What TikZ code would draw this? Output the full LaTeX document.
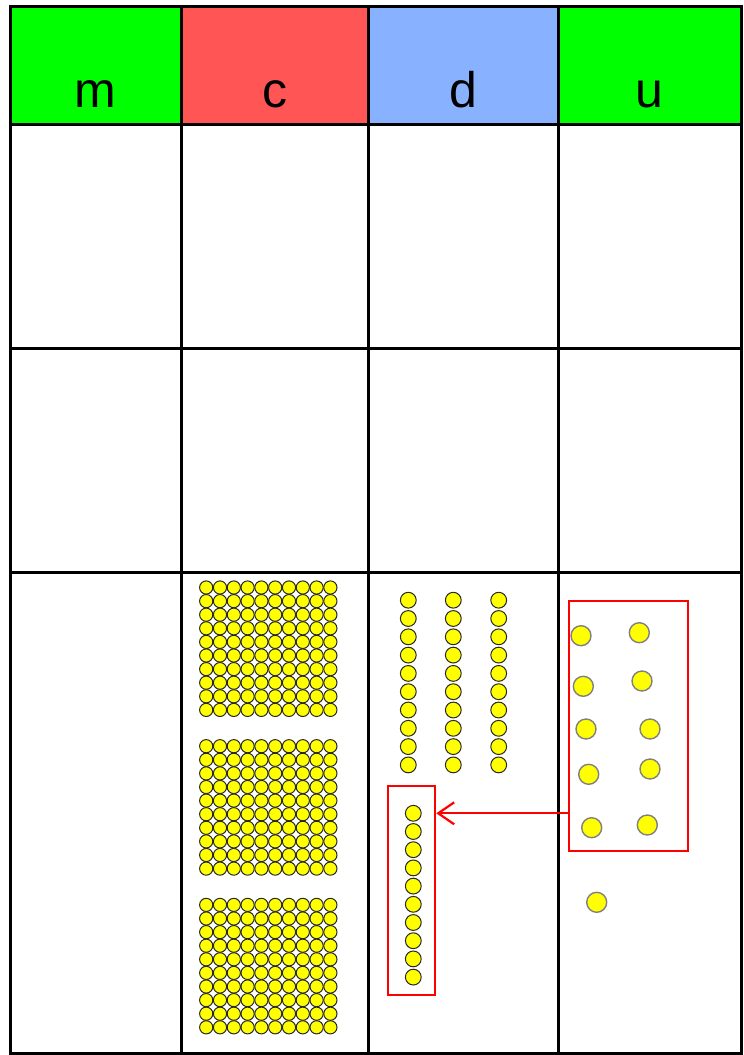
\documentclass[tikz,border=0pt]{standalone}
\usepackage{fontspec}
\setmainfont{Liberation Sans}
\usetikzlibrary{arrows.meta}
\definecolor{hgreen}{RGB}{0,255,0}
\definecolor{hred}{RGB}{255,85,85}
\definecolor{hblue}{RGB}{136,178,255}
\definecolor{bead}{RGB}{255,255,0}
\definecolor{ugray}{RGB}{128,128,128}
\begin{document}
\begin{tikzpicture}[x=1pt,y=-1pt,
  gridline/.style={line width=3pt},
  headtext/.style={font=\fontsize{50}{60}\selectfont, anchor=base, inner sep=0pt},
  hbead/.style={circle, draw=black!85, line width=1pt, fill=bead, minimum size=13.2pt, inner sep=0pt},
  tbead/.style={circle, draw=black!85, line width=1pt, fill=bead, minimum size=15.8pt, inner sep=0pt},
  ubead/.style={circle, draw=ugray, line width=1.4pt, fill=bead, minimum size=20pt, inner sep=0pt},
  redbox/.style={draw=red, line width=1.8pt, inner sep=0pt},
  movearrow/.style={draw=red, line width=2.2pt, -{Straight Barb[length=16pt,width=22pt,line width=2.2pt]}}]
\fill[white] (0,0) rectangle (744,1055);
\useasboundingbox (0,0) rectangle (744,1055);
% header fills
\fill[hgreen] (10,6) rectangle (181,124);
\fill[hred] (181,6) rectangle (368.5,124);
\fill[hblue] (368.5,6) rectangle (558,124);
\fill[hgreen] (558,6) rectangle (741,124);
% header labels
\node[headtext] (lm) at (95.5,107) {m};
\node[headtext] (lc) at (274.5,107) {c};
\node[headtext] (ld) at (463,107) {d};
\node[headtext] (lu) at (649.5,107) {u};
% grid
\draw[gridline] (10,6) rectangle (741,1053);
\foreach \x in {181,368.5,558} \draw[gridline] (\x,6) -- (\x,1053);
\foreach \y in {124,348.3,572} \draw[gridline] (10,\y) -- (741,\y);
% hundreds
\foreach \g in {0,1,2}
  \foreach \r in {0,...,9}
    \foreach \c in {0,...,9}
      \node[hbead] (h\g-\r-\c) at ({206.2+13.8*\c},{587.5+158.7*\g+13.6*\r}) {};
% tens
\foreach \k/\x in {1/408.3,2/453.3,3/498.7}
  \foreach \r in {0,...,9}
    \node[tbead] (t\k-\r) at (\x,{600.2+18.3*\r}) {};
\foreach \r in {0,...,9}
  \node[tbead] (b\r) at (413.3,{813.3+18.2*\r}) {};
\node[redbox, minimum width=47.3pt, minimum height=209.6pt] (tbox) at (411.7,890.5) {};
% units
\node[redbox, minimum width=118.4pt, minimum height=250pt] (ubox) at (628.5,726) {};
\foreach \i/\x/\y in {1/581/635.7,2/639.3/632.7,3/583.3/686.3,4/642/681,5/586/729,6/650/729,7/588.7/774.3,8/650/769,9/591.7/827.7,10/647.3/825,11/596.7/902.3}
  \node[ubead] (u\i) at (\x,\y) {};
% exchange arrow
\draw[movearrow] (ubox.west |- b0) -- (tbox.east |- b0);
\end{tikzpicture}
\end{document}
